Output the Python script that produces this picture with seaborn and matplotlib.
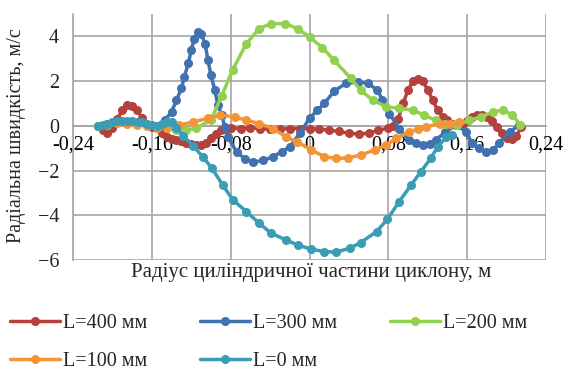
import matplotlib
matplotlib.use("Agg")
import matplotlib.pyplot as plt
import seaborn as sns
import pandas as pd

# Radial velocity profiles along the cyclone radius for several heights L
x_400 = [-0.215, -0.21, -0.205, -0.2, -0.195, -0.19, -0.185, -0.18, -0.175, -0.17, -0.165, -0.16,
         -0.155, -0.15, -0.145, -0.14, -0.135, -0.13, -0.125, -0.12, -0.115, -0.11, -0.105, -0.1,
         -0.095, -0.09, -0.085, -0.08, -0.07, -0.06, -0.05, -0.04, -0.03, -0.02, -0.01, 0.0, 0.01,
         0.02, 0.03, 0.04, 0.05, 0.06, 0.07, 0.08, 0.085, 0.09, 0.095, 0.1, 0.105, 0.11, 0.115,
         0.12, 0.125, 0.13, 0.135, 0.14, 0.145, 0.15, 0.155, 0.16, 0.165, 0.17, 0.175, 0.18,
         0.185, 0.19, 0.195, 0.2, 0.205, 0.21, 0.215]
y_400 = [0, -0.2, -0.3, -0.1, 0.3, 0.7, 0.92, 0.9, 0.7, 0.35, 0.05, -0.05,
         -0.1, -0.3, -0.5, -0.6, -0.65, -0.7, -0.75, -0.8, -0.85, -0.85, -0.75, -0.55,
         -0.35, -0.2, -0.12, -0.1, -0.12, -0.1, -0.12, -0.15, -0.15, -0.12, -0.12, -0.12, -0.15,
         -0.2, -0.25, -0.33, -0.37, -0.33, -0.2, -0.1, 0.0, 0.3, 1.0, 1.6, 2.0, 2.1, 2.0,
         1.6, 1.15, 0.7, 0.4, 0.25, 0.1, 0.03, 0.03, 0.2, 0.4, 0.5, 0.5, 0.4,
         0.2, -0.05, -0.3, -0.55, -0.6, -0.45, -0.05]

x_300 = [-0.215, -0.205, -0.195, -0.185, -0.175, -0.165, -0.155, -0.147, -0.14, -0.135, -0.13,
         -0.127, -0.123, -0.12, -0.117, -0.113, -0.11, -0.106, -0.103, -0.1, -0.096, -0.093,
         -0.089, -0.086, -0.083, -0.074, -0.065, -0.057, -0.047, -0.037, -0.028, -0.02, -0.01,
         0.0, 0.008, 0.015, 0.025, 0.037, 0.049, 0.059, 0.069, 0.074, 0.081, 0.091, 0.101,
         0.108, 0.115, 0.122, 0.128, 0.138, 0.149, 0.159, 0.165, 0.172, 0.179, 0.186, 0.192,
         0.203, 0.213]
y_300 = [0, 0.1, 0.15, 0.15, 0.1, 0.05, 0.0, 0.25, 0.62, 1.15, 1.67,
         2.19, 2.79, 3.38, 3.9, 4.2, 4.12, 3.68, 2.93, 2.26, 1.59, 0.92,
         0.48, -0.04, -0.49, -1.16, -1.5, -1.62, -1.55, -1.38, -1.15, -0.94, -0.34,
         0.33, 0.7, 1.0, 1.55, 1.9, 1.96, 1.9, 1.6, 1.15, 0.55, -0.12, -0.64,
         -0.78, -0.86, -0.8, -0.64, -0.27, 0.03, -0.27, -0.79, -1.0, -1.15, -1.1, -0.79,
         -0.27, 0.03]

x_200 = [-0.215, -0.205, -0.195, -0.185, -0.175, -0.165, -0.155, -0.145, -0.135, -0.125, -0.115,
         -0.1, -0.089, -0.078, -0.064, -0.051, -0.039, -0.025, -0.012, 0.0, 0.013, 0.025, 0.042,
         0.052, 0.064, 0.078, 0.091, 0.105, 0.116, 0.128, 0.138, 0.15, 0.162, 0.174, 0.186,
         0.196, 0.206, 0.214]
y_200 = [0, 0.05, 0.15, 0.15, 0.1, 0.05, 0.0, -0.1, -0.2, -0.2, -0.1,
         0.25, 1.35, 2.5, 3.68, 4.35, 4.57, 4.57, 4.35, 3.97, 3.5, 2.93, 2.12,
         1.59, 1.15, 0.85, 0.78, 0.7, 0.48, 0.25, 0.1, 0.03, 0.25, 0.4, 0.62,
         0.7, 0.48, 0.03]

x_100 = [-0.215, -0.205, -0.195, -0.185, -0.175, -0.165, -0.155, -0.145, -0.132, -0.118, -0.103,
         -0.091, -0.076, -0.064, -0.051, -0.037, -0.024, -0.013, 0.002, 0.015, 0.027, 0.039,
         0.052, 0.066, 0.078, 0.088, 0.101, 0.11, 0.118, 0.132, 0.143, 0.152]
y_100 = [0, 0.1, 0.12, 0.1, 0.05, 0.0, -0.1, -0.1, 0.03, 0.18, 0.33,
         0.48, 0.4, 0.25, 0.1, -0.12, -0.49, -0.71, -1.08, -1.38, -1.46, -1.43,
         -1.31, -1.08, -0.86, -0.56, -0.27, -0.15, -0.05, 0.1, 0.1, 0.18]

x_0 = [-0.215, -0.21, -0.205, -0.2, -0.195, -0.19, -0.185, -0.18, -0.175, -0.17, -0.165, -0.16,
       -0.155, -0.15, -0.145, -0.14, -0.135, -0.128, -0.118, -0.108, -0.099, -0.088, -0.078,
       -0.064, -0.051, -0.039, -0.024, -0.012, 0.002, 0.015, 0.027, 0.041, 0.052, 0.068, 0.079,
       0.091, 0.103, 0.113, 0.123, 0.13, 0.139, 0.145]
y_0 = [0, 0.05, 0.1, 0.15, 0.2, 0.22, 0.22, 0.2, 0.18, 0.15, 0.1, 0.05,
       0.0, 0.1, 0.18, 0.15, -0.1, -0.45, -0.9, -1.4, -1.9, -2.65, -3.3,
       -3.84, -4.36, -4.8, -5.1, -5.33, -5.52, -5.62, -5.65, -5.47, -5.22, -4.73, -4.18,
       -3.39, -2.65, -2.05, -1.46, -0.94, -0.49, -0.4]

series_names = ["L=400 мм", "L=300 мм", "L=200 мм", "L=100 мм", "L=0 мм"]
colors = ["#B5413D", "#4071B0", "#92D050", "#F39536", "#3A9CB5"]

xticks = [-0.24, -0.16, -0.08, 0, 0.08, 0.16, 0.24]
xtick_labels = ["-0,24", "-0,16", "-0,08", "0", "0,08", "0,16", "0,24"]
yticks = [-6, -4, -2, 0, 2, 4]

frames = []
for name, xs, ys in zip(series_names,
                        [x_400, x_300, x_200, x_100, x_0],
                        [y_400, y_300, y_200, y_100, y_0]):
    frames.append(pd.DataFrame({"r": xs, "v": ys, "series": name}))
df = pd.concat(frames, ignore_index=True)

sns.set_style("white")
plt.rcParams["font.family"] = ["Liberation Serif", "DejaVu Serif"]
fs = 14.5

fig = plt.figure(figsize=(5.68, 3.72), dpi=100)
ax = fig.add_axes([73 / 568, 1 - 260 / 372, (546 - 73) / 568, (260 - 14) / 372])

sns.lineplot(data=df, x="r", y="v", hue="series", hue_order=series_names,
             palette=colors, marker="o", markersize=6.5, markeredgewidth=0,
             linewidth=2.5, sort=False, estimator=None, ax=ax, zorder=3)

grid_c = "#a6a6a6"
ax.set_xlim(-0.24, 0.24)
ax.set_ylim(-6, 5)
ax.set_xticks(xticks)
ax.set_xticklabels(xtick_labels)
ax.set_yticks(yticks)
ax.grid(True, color=grid_c, linewidth=1.2)
ax.set_axisbelow(True)

for s in ["top", "right"]:
    ax.spines[s].set_visible(False)
ax.spines["left"].set_color(grid_c)
ax.spines["left"].set_linewidth(1.2)
ax.spines["bottom"].set_position(("data", 0))
ax.spines["bottom"].set_color(grid_c)
ax.spines["bottom"].set_linewidth(1.2)

ax.tick_params(axis="x", length=0, pad=7, labelsize=fs, colors="black")
ax.tick_params(axis="y", length=7, width=1.2, color=grid_c, pad=3, labelsize=fs)

ax.set_xlabel("")
ax.set_ylabel("")
fig.text(17 / 568, 1 - 136 / 372, "Радіальна швидкість, м/с", rotation=90,
         ha="center", va="center", fontsize=fs)
fig.text(311 / 568, 1 - 273 / 372, "Радіус циліндричної частини циклону, м",
         ha="center", va="center", fontsize=15)

ax.get_legend().remove()
handles, labels = ax.get_legend_handles_labels()
order = [0, 3, 1, 4, 2]  # row-major fill: 400 300 200 / 100 0
fig.legend([handles[i] for i in order], [labels[i] for i in order],
           loc="upper left", bbox_to_anchor=(10 / 568, 1 - 314 / 372),
           borderaxespad=0, borderpad=0,
           ncol=3, frameon=False, fontsize=fs, handlelength=2.5, columnspacing=2.6,
           labelspacing=0.95, handletextpad=0.15)

fig.savefig("out.png", dpi=100)
